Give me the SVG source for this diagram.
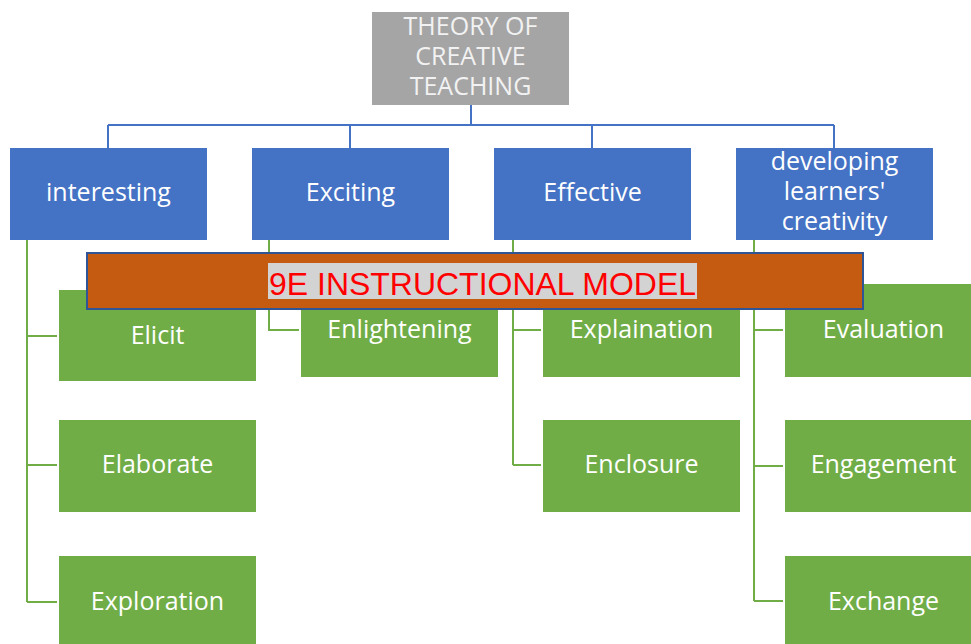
<svg xmlns="http://www.w3.org/2000/svg" width="971" height="644" viewBox="0 0 971 644">
  <style>
    .root { fill: #a5a5a5; }
    .lvl1 { fill: #4472c4; }
    .leaf { fill: #70ad47; }
    .lbl { font-family: "Open Sans", "Noto Sans", sans-serif; font-size: 25px; fill: #ffffff; text-anchor: middle; }
    .rootlbl { fill: #f2f2f2; }
    .blue { stroke: #4472c4; stroke-width: 2; fill: none; }
    .green { stroke: #70ad47; stroke-width: 2; fill: none; }
    .banner { fill: #c55a11; stroke: #2f5597; stroke-width: 2; }
    .bannerlbl { font-family: "Liberation Sans", Arial, sans-serif; font-size: 32px; fill: #ff0000; text-anchor: middle; }
  </style>
  <rect width="971" height="644" fill="#ffffff"/>

  <!-- connectors -->
  <g id="connectors">
    <path class="blue" d="M471 105 V125 M108 125 H834 M108 125 V148 M350 125 V148 M592 125 V148 M834 125 V148"/>
    <path class="green" d="M27 240 V602 M27 336 H57 M27 465 H57 M27 602 H57"/>
    <path class="green" d="M269 240 V330 H299"/>
    <path class="green" d="M513 240 V465 M513 330 H541 M513 465 H541"/>
    <path class="green" d="M754 240 V601 M754 330 H783 M754 466 H783 M754 601 H783"/>
  </g>

  <!-- root -->
  <g id="root">
    <rect class="root" x="372" y="12" width="197" height="93"/>
    <text class="lbl rootlbl" x="470.5"><tspan x="470.5" y="35">THEORY OF</tspan><tspan x="470.5" y="65">CREATIVE</tspan><tspan x="470.5" y="95">TEACHING</tspan></text>
  </g>

  <!-- level 1 -->
  <g id="interesting">
    <rect class="lvl1" x="10" y="148" width="197" height="92"/>
    <text class="lbl" x="108.5" y="201">interesting</text>
  </g>
  <g id="exciting">
    <rect class="lvl1" x="252" y="148" width="197" height="92"/>
    <text class="lbl" x="350.5" y="201">Exciting</text>
  </g>
  <g id="effective">
    <rect class="lvl1" x="494" y="148" width="197" height="92"/>
    <text class="lbl" x="592.5" y="201">Effective</text>
  </g>
  <g id="developing">
    <rect class="lvl1" x="736" y="148" width="197" height="92"/>
    <text class="lbl" x="834.5"><tspan x="834.5" y="170">developing</tspan><tspan x="834.5" y="200">learners'</tspan><tspan x="834.5" y="230">creativity</tspan></text>
  </g>

  <!-- leaves -->
  <g id="elicit">
    <rect class="leaf" x="59" y="290" width="197" height="91"/>
    <text class="lbl" x="157.5" y="344">Elicit</text>
  </g>
  <g id="elaborate">
    <rect class="leaf" x="59" y="420" width="197" height="92"/>
    <text class="lbl" x="157.5" y="473">Elaborate</text>
  </g>
  <g id="exploration">
    <rect class="leaf" x="59" y="556" width="197" height="92"/>
    <text class="lbl" x="157.5" y="610">Exploration</text>
  </g>
  <g id="enlightening">
    <rect class="leaf" x="301" y="284" width="197" height="93"/>
    <text class="lbl" x="399.5" y="338">Enlightening</text>
  </g>
  <g id="explaination">
    <rect class="leaf" x="543" y="284" width="197" height="93"/>
    <text class="lbl" x="641.5" y="338">Explaination</text>
  </g>
  <g id="enclosure">
    <rect class="leaf" x="543" y="420" width="197" height="92"/>
    <text class="lbl" x="641.5" y="473">Enclosure</text>
  </g>
  <g id="evaluation">
    <rect class="leaf" x="785" y="284" width="197" height="93"/>
    <text class="lbl" x="883.5" y="338">Evaluation</text>
  </g>
  <g id="engagement">
    <rect class="leaf" x="785" y="420" width="197" height="92"/>
    <text class="lbl" x="883.5" y="473">Engagement</text>
  </g>
  <g id="exchange">
    <rect class="leaf" x="785" y="556" width="197" height="92"/>
    <text class="lbl" x="883.5" y="610">Exchange</text>
  </g>

  <!-- banner -->
  <g id="banner">
    <rect class="banner" x="87" y="253" width="776" height="56"/>
    <rect x="268" y="263" width="429" height="36" fill="#d3d3d3"/>
    <text class="bannerlbl" x="482.5" y="295" textLength="427" lengthAdjust="spacingAndGlyphs">9E INSTRUCTIONAL MODEL</text>
  </g>
</svg>
